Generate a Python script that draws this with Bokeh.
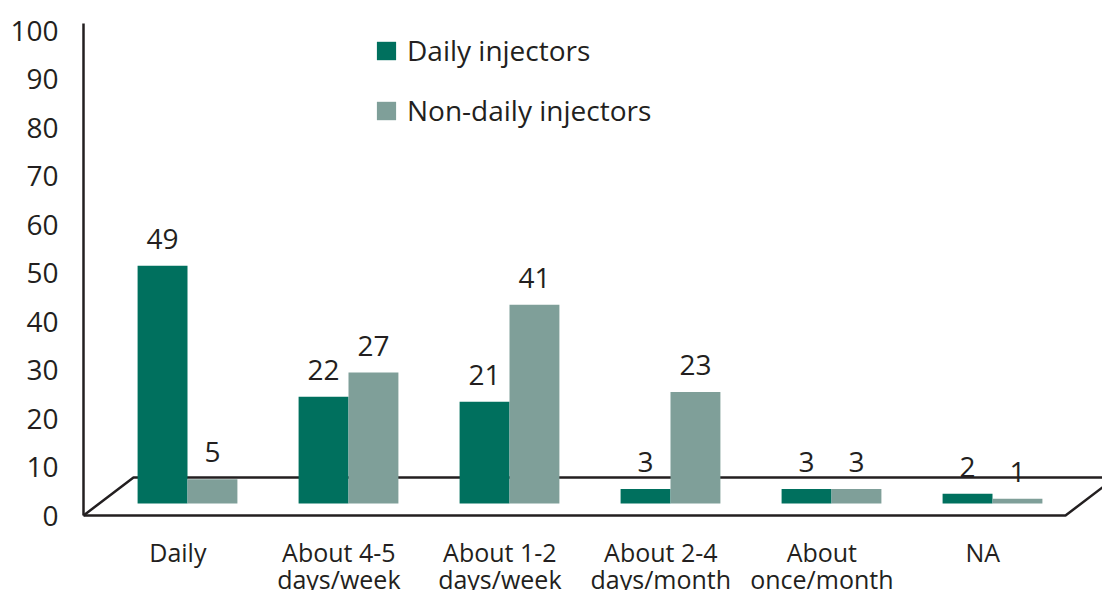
from bokeh.plotting import figure
from bokeh.models import Legend, LegendItem, ColumnDataSource
from bokeh.core.properties import value
from bokeh.embed import file_html
from bokeh.resources import INLINE

# ---------------- data ----------------
categories = ["Daily", "About 4-5\ndays/week", "About 1-2\ndays/week",
              "About 2-4\ndays/month", "About\nonce/month", "NA"]
daily_injectors = [49, 22, 21, 3, 3, 2]
nondaily_injectors = [5, 27, 41, 23, 3, 1]
series_names = ["Daily injectors", "Non-daily injectors"]
y_ticks = [0, 10, 20, 30, 40, 50, 60, 70, 80, 90, 100]

# ---------------- style ----------------
DARK = "#00705e"
LIGHT = "#7f9f99"
INK = "#231f20"
FONT = "Open Sans"
W, H = 1102, 590
PX = 4.85            # pixels per value unit
GX = 161.0           # pixels per category group
BAR_W = 0.31         # bar width in group units
BASE = 12 / PX       # bars stand on the 3-D floor
FLOOR_DEPTH = 38 / PX
FLOOR_SHIFT = 50 / GX
Y0_PIX = 515         # pixel row of value 0
FRAME_L, FRAME_T = 78, 10
X_AX = (83 - 187) / GX
X0 = (FRAME_L - 187) / GX
X1 = (W - 187) / GX

p = figure(width=W, height=H, output_backend="svg", toolbar_location=None,
           x_range=(X0, X1), y_range=(-(H - Y0_PIX) / PX, (Y0_PIX - FRAME_T) / PX),
           min_border_left=FRAME_L, min_border_right=0, min_border_top=FRAME_T,
           min_border_bottom=0, x_axis_type=None)
p.outline_line_color = None
p.xgrid.visible = False
p.ygrid.visible = False
p.background_fill_color = "white"

ax = p.yaxis[0]
ax.ticker = y_ticks
ax.major_tick_out = 0
ax.major_tick_in = 0
ax.minor_tick_out = 0
ax.minor_tick_in = 0
ax.axis_line_color = None
ax.major_label_standoff = 20
ax.major_label_text_font = FONT
ax.major_label_text_font_size = "28px"
ax.major_label_text_color = INK

# value axis line
p.line(x=[X_AX, X_AX], y=[0, (Y0_PIX - 23) / PX], line_color=INK, line_width=2.5)

# 3-D floor outline
fx_front_r = X_AX + (1065 - 83) / GX
p.line(x=[X_AX, fx_front_r, fx_front_r + FLOOR_SHIFT * 1.5],
       y=[0, 0, FLOOR_DEPTH * 1.5], line_color=INK, line_width=2.5)
p.line(x=[X_AX, X_AX + FLOOR_SHIFT, X1 + 1],
       y=[0, FLOOR_DEPTH, FLOOR_DEPTH], line_color=INK, line_width=2.5)

idx = list(range(len(categories)))
src_d = ColumnDataSource(dict(x=[i - BAR_W / 2 for i in idx],
                              top=[BASE + v for v in daily_injectors],
                              lab=[str(v) for v in daily_injectors]))
src_n = ColumnDataSource(dict(x=[i + BAR_W / 2 for i in idx],
                              top=[BASE + v for v in nondaily_injectors],
                              lab=[str(v) for v in nondaily_injectors]))

r_d = p.vbar(x="x", top="top", bottom=BASE, width=BAR_W, source=src_d,
             fill_color=DARK, line_color=None)
r_n = p.vbar(x="x", top="top", bottom=BASE, width=BAR_W, source=src_n,
             fill_color=LIGHT, line_color=None)

for src in (src_d, src_n):
    p.text(x="x", y="top", text="lab", source=src, text_align="center",
           text_baseline="alphabetic", y_offset=-27, text_font=value(FONT),
           text_font_size="28px", text_color=INK)

# category labels
cat_src = ColumnDataSource(dict(x=[i - 0.06 for i in idx], y=[0] * len(idx), text=categories))
p.text(x="x", y="y", text="text", source=cat_src, text_align="center",
       text_baseline="top", y_offset=19, text_font=value(FONT),
       text_font_size="25px", text_color=INK, text_line_height=0.8)

legend = Legend(items=[LegendItem(label=series_names[0], renderers=[r_d]),
                       LegendItem(label=series_names[1], renderers=[r_n])],
                location=(374 - FRAME_L, H - 129), glyph_width=24, glyph_height=23,
                label_text_font=FONT, label_text_font_size="28px",
                label_text_color=INK, label_standoff=9, spacing=22, padding=0,
                border_line_color=None, background_fill_alpha=0)
p.add_layout(legend)

open("out.html", "w").write(file_html(p, INLINE))
